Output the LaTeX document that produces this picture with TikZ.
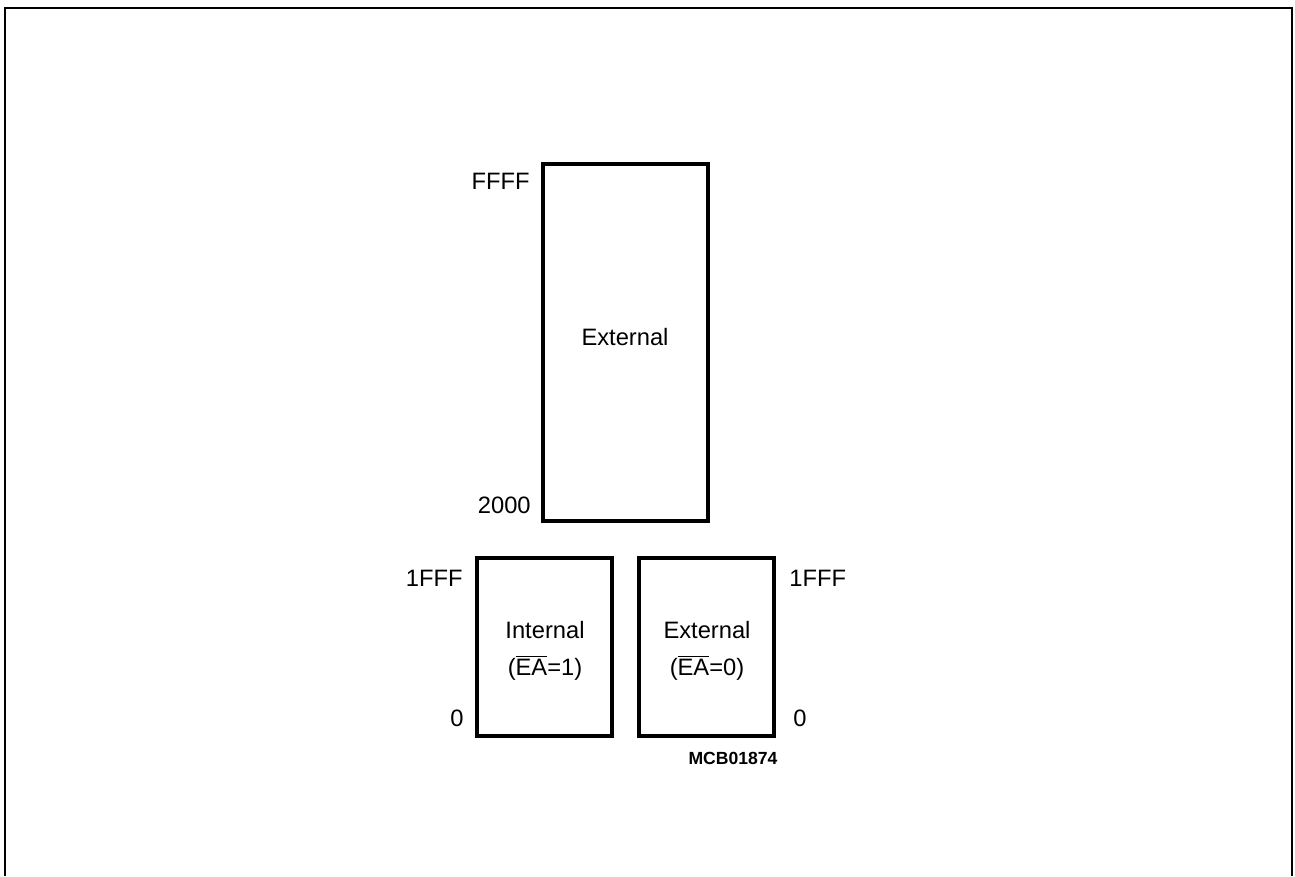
\documentclass[tikz,border=0pt]{standalone}
\usepackage{fontspec}
\setmainfont{Liberation Sans}
\newfontfamily\codefont{Liberation Sans}
\usetikzlibrary{positioning}
\newcommand{\nbar}[1]{$\overline{\hbox{#1}}$}

\begin{document}
\begin{tikzpicture}[x=0.02cm,y=-0.02cm,
    every node/.style={font=\fontsize{13.5}{21}\selectfont, inner sep=0pt},
    membox/.style={draw, line width=2pt, rectangle},
    addr/.style={inner sep=0pt}]

  \useasboundingbox (0,0) rectangle (1295,876);

  % open frame round the figure
  \draw [line width=1.3pt] (5,876) -- (5,8) -- (1292,8) -- (1292,876);

  % upper memory block
  \node (ext) [membox, minimum width=3.3cm, minimum height=7.14cm]
        at (625.5,342.5) {};
  \node (extText) at (625,337) {External};
  \node (aFFFF) [addr, anchor=east] at (530,181) {FFFF};
  \node (a2000) [addr, anchor=east] at (531,505) {2000};

  % lower memory blocks
  \node (int) [membox, minimum width=2.7cm, minimum height=3.56cm]
        at (544.5,647) {};
  \node (intText) [align=center] at (545,651) {Internal \\ (\nbar{EA}=1)};

  \node (extLow) [membox, minimum width=2.7cm, minimum height=3.56cm]
        at (706.5,647) {};
  \node (extLowText) [align=center] at (707,651) {External \\ (\nbar{EA}=0)};

  \node (a1FFFl) [addr, anchor=east] at (463,578) {1FFF};
  \node (a0l)    [addr, anchor=east] at (464,718) {0};
  \node (a1FFFr) [addr, anchor=west] at (789,578) {1FFF};
  \node (a0r)    [addr, anchor=west] at (793,718) {0};

  \node (code) at (733,758) {\codefont\bfseries\fontsize{10}{12}\selectfont MCB01874};

\end{tikzpicture}
\end{document}
